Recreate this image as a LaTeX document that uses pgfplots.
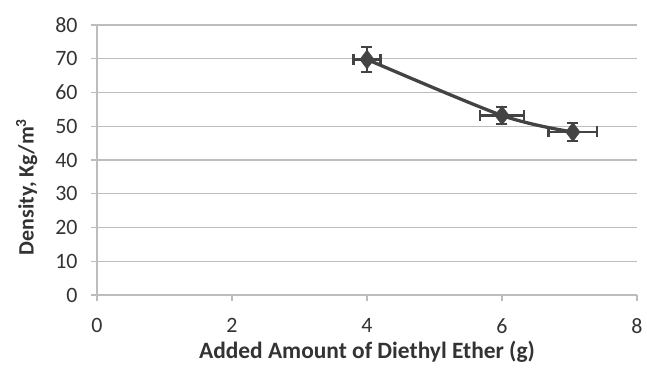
\documentclass[border=0pt]{standalone}
\usepackage{fontspec}
\setmainfont{Carlito}
\usepackage{pgfplots}
\pgfplotsset{compat=1.18}
\definecolor{ln}{HTML}{434343}
\definecolor{gr}{HTML}{BDBDBD}
\definecolor{tx}{HTML}{333333}
\begin{document}
\begin{tikzpicture}
\useasboundingbox (-97bp,-79bp) rectangle (550bp,295bp);
\begin{axis}[
  at={(0,0)}, anchor=south west,
  scale only axis,
  width=540bp, height=270bp,
  xmin=0, xmax=8, ymin=0, ymax=80,
  xtick={0,2,4,6,8}, ytick={0,10,...,80},
  axis x line=bottom, axis y line=left,
  axis line style={gr, line width=1.3pt, -},
  ymajorgrids, grid style={gr, line width=1.3pt},
  tick style={gr, line width=1.3pt},
  tick align=outside, major tick length=6bp,
  /pgf/number format/assume math mode=true,
  ticklabel style={font=\fontsize{22}{26}\selectfont, text=tx},
  xticklabel style={yshift=-14bp},
  yticklabel style={xshift=-10bp},
  label style={font=\bfseries\fontsize{23.5}{28}\selectfont, text=tx},
  xlabel={Added Amount of Diethyl Ether (g)},
  ylabel={Density, Kg/m\textsuperscript{3}},
  xlabel style={at={(axis description cs:0.5,-0.21)}, anchor=center},
  ylabel style={at={(axis description cs:-0.13,0.40)}, anchor=center, font=\bfseries\fontsize{22}{26}\selectfont},
  clip=false,
]
\addplot[ln, line width=3.3pt, smooth, tension=0.5,
  mark=diamond*, mark size=9.5bp, mark options={fill=ln, draw=ln, line width=0.5pt},
  error bars/.cd, x dir=both, x explicit, y dir=both, y explicit,
  error bar style={ln, line width=2.2pt},
  error mark options={rotate=90, mark size=5.5bp, line width=2.2pt, ln}]
coordinates {
  (4,69.8) +- (0.2,3.7)
  (6,53.2) +- (0.32,2.5)
  (7.05,48.3) +- (0.36,2.7)
};
\end{axis}
\end{tikzpicture}
\end{document}
